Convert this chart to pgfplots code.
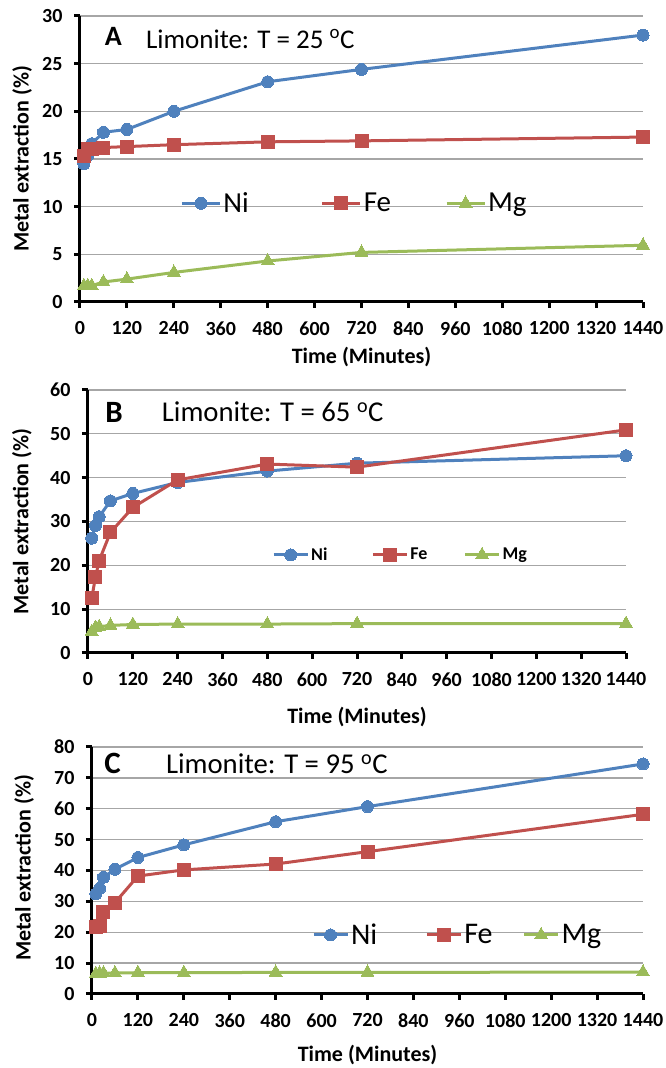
\documentclass[border=0pt]{standalone}
\usepackage{fontspec}
\setmainfont{Carlito}
\usepackage{pgfplots}
\pgfplotsset{compat=1.18}

\definecolor{niblue}{HTML}{4F81BD}
\definecolor{fered}{HTML}{C0504D}
\definecolor{mggreen}{HTML}{9BBB59}
\definecolor{gridgray}{HTML}{A6A6A6}

\newcommand{\lbl}{\fontsize{22}{22}\selectfont\bfseries}

\pgfplotsset{
  panel/.style={
    scale only axis,
    xmin=0, xmax=1440,
    xtick={0,120,...,1440},
    ymin=0,
    clip=false,
    axis x line*=bottom,
    axis y line*=left,
    axis line style={line width=3pt},
    tick align=outside,
    major tick length=6pt,
    tick style={black, line width=3pt},
    ymajorgrids,
    grid style={gridgray, line width=1.3pt},
    /pgf/number format/assume math mode=true,
    /pgf/number format/1000 sep={},
    tick label style={font=\fontsize{20}{20}\selectfont\bfseries},
    xticklabel style={yshift=-10pt},
    yticklabel style={xshift=-8pt},
    xlabel={Time (Minutes)},
    ylabel={Metal extraction (\%)},
    label style={font=\lbl},
    legend style={draw=none, fill=none, inner sep=0pt, anchor=west, nodes={inner xsep=2pt}},
    legend cell align=left,
    every axis plot/.append style={line width=3pt},
  },
  ni/.style={niblue, mark=*, mark size=6pt, mark options={solid, fill=niblue, draw=niblue, line width=0pt}},
  fe/.style={fered, mark=square*, mark size=6.5pt, mark options={solid, fill=fered, draw=fered, line width=0pt}},
  mg/.style={mggreen, mark=triangle*, mark size=7.5pt, mark options={solid, fill=mggreen, draw=mggreen, line width=0pt}},
}

\begin{document}
\begin{tikzpicture}
\useasboundingbox (0,0) rectangle (666pt,1068pt);

% ---- A: 25 C
\begin{axis}[panel,
  at={(80pt,766pt)}, anchor=south west,
  width=563pt, height=286pt,
  ymax=30, ytick={0,5,...,30},
  xlabel style={at={(axis description cs:0.5,-0.194)}, anchor=center},
  ylabel style={at={(axis description cs:-0.103,0.5)}, anchor=center},
  legend columns=3,
  legend image code/.code={\draw[mark repeat=2,mark phase=2] plot coordinates {(0pt,0pt)(19pt,0pt)(38pt,0pt)};},
  legend style={at={(rel axis cs:0.178,0.345)}, font=\fontsize{29}{29}\selectfont,
    /tikz/column 2/.style={column sep=70pt},
    /tikz/column 4/.style={column sep=52pt}},
]
\addplot[ni] coordinates {(10,14.5) (20,15.4) (30,16.6) (60,17.8) (120,18.1) (240,20.0) (480,23.1) (720,24.4) (1440,28.0)};
\addplot[fe] coordinates {(10,15.3) (20,16.0) (30,16.1) (60,16.2) (120,16.3) (240,16.5) (480,16.8) (720,16.9) (1440,17.3)};
\addplot[mg] coordinates {(10,1.7) (20,1.7) (30,1.7) (60,2.1) (120,2.4) (240,3.1) (480,4.3) (720,5.2) (1440,5.95)};
\legend{Ni,Fe,Mg}
\node[anchor=base west, font=\fontsize{28}{28}\selectfont\bfseries, inner sep=0pt] at (rel axis cs:0.044,0.898) {A};
\node[anchor=base west, font=\fontsize{27}{27}\selectfont, inner sep=0pt] at (rel axis cs:0.117,0.888) {Limonite: T = 25 \textsuperscript{o}C};
\end{axis}

% ---- B: 65 C
\begin{axis}[panel,
  at={(88pt,415pt)}, anchor=south west,
  width=538pt, height=263pt,
  ymax=60, ytick={0,10,...,60},
  xlabel style={at={(axis description cs:0.5,-0.242)}, anchor=center},
  ylabel style={at={(axis description cs:-0.123,0.5)}, anchor=center},
  legend columns=3,
  legend image code/.code={\draw[mark repeat=2,mark phase=2] plot coordinates {(0pt,0pt)(17pt,0pt)(34pt,0pt)};},
  legend style={at={(rel axis cs:0.342,0.373)}, font=\fontsize{18}{18}\selectfont\bfseries,
    /tikz/column 2/.style={column sep=42pt},
    /tikz/column 4/.style={column sep=34pt}},
]
\addplot[ni] coordinates {(10,26.2) (20,29.1) (30,31.1) (60,34.7) (120,36.4) (240,38.9) (480,41.5) (720,43.3) (1440,45.0)};
\addplot[fe] coordinates {(10,12.5) (20,17.3) (30,21.1) (60,27.5) (120,33.2) (240,39.5) (480,43.1) (720,42.4) (1440,50.9)};
\addplot[mg] coordinates {(10,4.9) (20,5.8) (30,6.0) (60,6.3) (120,6.5) (240,6.6) (480,6.6) (720,6.7) (1440,6.7)};
\legend{Ni,Fe,Mg}
\node[anchor=base west, font=\fontsize{31}{31}\selectfont\bfseries, inner sep=0pt] at (rel axis cs:0.032,0.875) {B};
\node[anchor=base west, font=\fontsize{28.7}{28.7}\selectfont, inner sep=0pt] at (rel axis cs:0.137,0.88) {Limonite: T = 65 \textsuperscript{o}C};
\end{axis}

% ---- C: 95 C
\begin{axis}[panel,
  at={(92pt,74pt)}, anchor=south west,
  width=551pt, height=247pt,
  ymax=80, ytick={0,10,...,80},
  xlabel style={at={(axis description cs:0.5,-0.247)}, anchor=center},
  ylabel style={at={(axis description cs:-0.123,0.51)}, anchor=center},
  legend columns=3,
  legend image code/.code={\draw[mark repeat=2,mark phase=2] plot coordinates {(0pt,0pt)(17pt,0pt)(34pt,0pt)};},
  legend style={at={(rel axis cs:0.399,0.239)}, font=\fontsize{30}{30}\selectfont,
    /tikz/column 2/.style={column sep=46pt},
    /tikz/column 4/.style={column sep=28pt}},
]
\addplot[ni] coordinates {(10,32.4) (20,34.2) (30,37.8) (60,40.4) (120,44.2) (240,48.3) (480,55.8) (720,60.7) (1440,74.5)};
\addplot[fe] coordinates {(10,21.6) (20,21.9) (30,26.7) (60,29.6) (120,38.2) (240,40.2) (480,42.1) (720,46.1) (1440,58.2)};
\addplot[mg] coordinates {(10,6.6) (20,6.7) (30,6.8) (60,6.8) (120,6.9) (240,6.9) (480,7.0) (720,7.0) (1440,7.1)};
\legend{Ni,Fe,Mg}
\node[anchor=base west, font=\fontsize{31}{31}\selectfont\bfseries, inner sep=0pt] at (rel axis cs:0.022,0.893) {C};
\node[anchor=base west, font=\fontsize{28.7}{28.7}\selectfont, inner sep=0pt] at (rel axis cs:0.134,0.893) {Limonite: T = 95 \textsuperscript{o}C};
\end{axis}
\end{tikzpicture}
\end{document}
